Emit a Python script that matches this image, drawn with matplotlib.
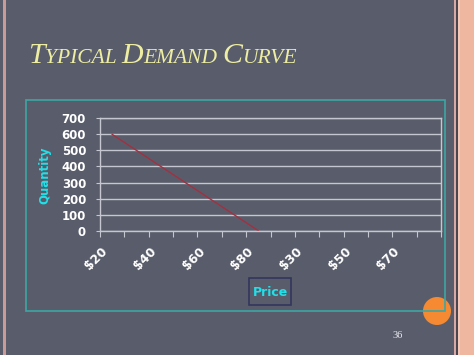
import numpy as np
import matplotlib
matplotlib.use('Agg')
import matplotlib.pyplot as plt
import matplotlib.transforms as mtrans
from matplotlib.patches import Rectangle, Circle

prices = ['$20', '$30', '$40', '$50', '$60', '$70', '$80',
          '$20', '$30', '$40', '$50', '$60', '$70', '$80']
quantity = [600, 500, 400, 300, 200, 100, 0,
            np.nan, np.nan, np.nan, np.nan, np.nan, np.nan, np.nan]
y_ticks = [0, 100, 200, 300, 400, 500, 600, 700]

W, H = 474, 355
bg = '#595d6b'

fig = plt.figure(figsize=(W / 100, H / 100), dpi=100, facecolor=bg)


def px_rect(x0, y0, x1, y1, **kw):
    # pixel coords from top-left -> figure fraction
    r = Rectangle((x0 / W, 1 - y1 / H), (x1 - x0) / W, (y1 - y0) / H,
                  transform=fig.transFigure, **kw)
    fig.patches.append(r)
    return r


# slide edges
px_rect(3, 0, 6, H, facecolor='#c99a98', edgecolor='none')
px_rect(454, 0, 456, H, facecolor='#d8a8a4', edgecolor='none')
px_rect(456, 0, 457.5, H, facecolor='#4a4650', edgecolor='none')
px_rect(457.5, 0, 459.5, H, facecolor='#f4c8b8', edgecolor='none')
px_rect(459.5, 0, W, H, facecolor='#efb7a0', edgecolor='none')

# orange circle, then teal chart frame on top
c = Circle((437 / 100, (H - 311) / 100), 0.14, transform=fig.dpi_scale_trans,
           facecolor='#f58a32', edgecolor='none', zorder=1)
fig.patches.append(c)
px_rect(26, 100, 445, 311, facecolor='none', edgecolor='#3ea6a4', lw=1.2, zorder=3)

# price label box
px_rect(249, 278, 291, 305, facecolor='none', edgecolor='#33365c', lw=1.2)

ax = fig.add_axes([100 / W, 1 - 230.7 / H, 341 / W, 112.4 / H])
ax.set_facecolor(bg)

x = np.arange(len(prices))
ax.plot(x, quantity, color='#a33040', lw=1)

ax.set_xlim(-0.5, len(prices) - 0.5)
ax.set_ylim(0, 700)
ax.set_yticks(y_ticks)
ax.grid(axis='y', color='#c4c7d0', lw=1)
ax.set_axisbelow(True)
for s in ax.spines.values():
    s.set_color('#c4c7d0')
    s.set_linewidth(1)

# category boundaries as ticks, labels on every 2nd category drawn by hand
ax.set_xticks(np.arange(-0.5, len(prices)))
ax.set_xticklabels([])
ax.tick_params(axis='x', length=4, color='#c4c7d0', direction='out')
shift = mtrans.ScaledTranslation(-16 / 100, -28 / 100, fig.dpi_scale_trans)
for xi in x[::2]:
    ax.text(xi, 0, prices[xi], transform=ax.get_xaxis_transform() + shift,
            rotation=45, ha='center', va='center', fontsize=9,
            fontweight='heavy', color='white', clip_on=False)

ax.tick_params(axis='y', length=3, color='#c4c7d0', pad=7,
               labelsize=8.5, labelcolor='white')
for t in ax.get_yticklabels():
    t.set_fontweight('heavy')

fig.text(45 / W, 1 - 175 / H, 'Quantity', rotation=90, ha='center', va='center',
         fontsize=8.5, fontweight='heavy', color='#22e0e8')
fig.text(270 / W, 1 - 292 / H, 'Price', ha='center', va='center',
         fontsize=9, fontweight='heavy', color='#22e0e8')

# small caps title
fig.canvas.draw()
renderer = fig.canvas.get_renderer()
parts = [('T', 21.5), ('YPICAL ', 15.5), ('D', 21.5), ('EMAND ', 15.5),
         ('C', 21.5), ('URVE', 15.5)]
xpos = 28
for txt, size in parts:
    t = fig.text(xpos / W, 1 - 63 / H, txt, fontsize=size, style='italic',
                 family='Liberation Serif', color='#eeeea2', va='baseline')
    bb = t.get_window_extent(renderer)
    xpos += bb.width

fig.text(398 / W, 1 - 335 / H, '36', ha='center', va='center', fontsize=7.5,
         family='Liberation Serif', color='#e8e8ee')

fig.savefig('out.png', dpi=100, facecolor=bg)
